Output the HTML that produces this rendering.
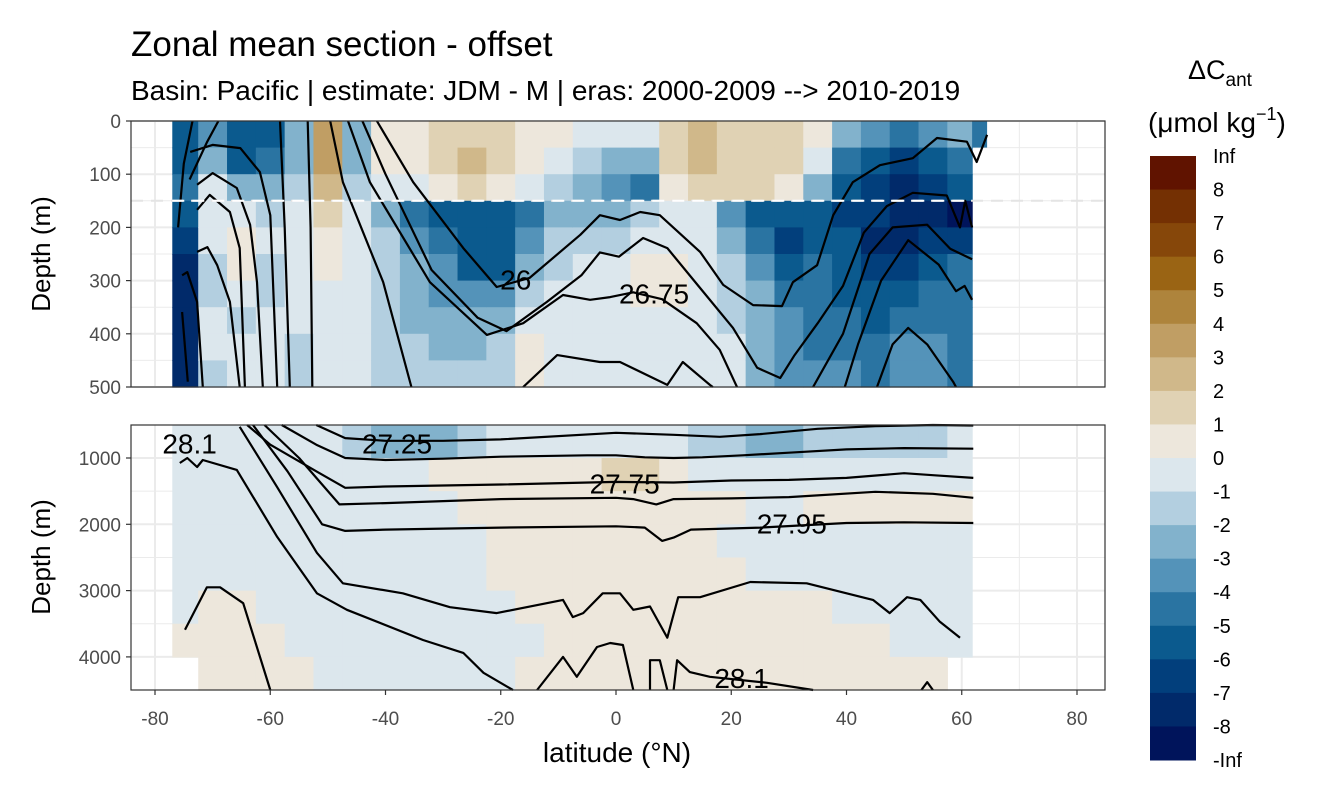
<!DOCTYPE html>
<html><head><meta charset="utf-8"><style>
body{margin:0;background:#fff;}
svg text{font-family:"Liberation Sans",sans-serif;}
</style></head><body>
<svg id="chart" width="1344" height="806" viewBox="0 0 1344 806" xmlns="http://www.w3.org/2000/svg">
<text x="131" y="56" font-size="35" fill="#000">Zonal mean section - offset</text>
<text x="131" y="100" font-size="28" fill="#000">Basin: Pacific | estimate: JDM - M | eras: 2000-2009 --&gt; 2010-2019</text>
<g id="topPanel"></g>
<g id="botPanel"></g>
<g id="axes"></g>
<g id="legend"></g>
</svg>
<script>
const latCenters=[-75,-70,-65,-60,-55,-50,-45,-40,-35,-30,-25,-20,-15,-10,-5,0,5,10,15,20,25,30,35,40,45,50,55,60];
const topDepthEdges=[0,50,100,150,200,250,300,350,400,450,500];
const botDepthEdges=[500,1000,1500,2000,2500,3000,3500,4000,4500];
const topValues=[
[-6,-6,-5,-6,-7,-8,-8,-8,-8,-8],
[-4,-3,-1,-1,-1,-2,-2,-1,-1,-2],
[-6,-6,-3,-1,0.5,0.5,-1,-2,-1,-1],
[-6,-5,-3,-2,-1,-2,-2,-1,-1,-1],
[-3,-3,-2,-1,-1,-1,-1,-1,-2,-2],
[3,3,2.5,1.5,0.5,0.5,-0.5,-0.5,-0.5,-1],
[-3,-3,-2,-1,-1,-1,-0.5,-0.5,-1,-1],
[0.5,0.5,-1,-3,-2,-2,-2,-2,-2,-2],
[0.5,0.5,-1,-5,-4,-3,-3,-3,-2,-2],
[1.5,1.5,0.5,-6,-5,-4,-4,-3,-3,-2],
[1.5,2.5,1.5,-6,-6,-6,-4,-3,-3,-2],
[1.5,1.5,0.5,-6,-6,-6,-4,-3,-2,-2],
[0.5,0.5,-0.5,-5,-4,-3,-2,-1,0.5,0.5],
[0.5,-1,-2,-3,-2,-2,-1,-1,-1,-0.5],
[-1,-2,-3,-3,-2,-1,-1,-1,-1,-1],
[-1,-3,-4,-3,-2,-1,-0.5,-1,-1,-0.5],
[-0.5,-3,-5,-2,-1,0.5,0.5,-0.5,-0.5,-0.5],
[1.5,1.5,0.5,-0.5,-0.5,0.5,0.5,-0.5,-0.5,-0.5],
[2.5,2.5,1.5,-1,-1,-1,-1,-1,-1,-1],
[1.5,1.5,1.5,-4,-3,-2,-2,-2,-1,-1],
[1.5,1.5,1.5,-6,-5,-4,-3,-3,-3,-3],
[1.5,1.5,0.5,-6,-7,-6,-5,-4,-4,-4],
[0.5,-1,-3,-6,-6,-5,-5,-5,-5,-4],
[-3,-5,-6,-7,-6,-6,-6,-5,-5,-4],
[-4,-6,-7,-7,-8,-7,-6,-6,-5,-5],
[-5,-7,-8,-8,-8,-7,-6,-5,-4,-4],
[-4,-6,-7,-8,-7,-6,-5,-5,-4,-4],
[-3,-5,-6,-9,-7,-5,-5,-5,-5,-5]];
const botValues=[
[-1,-1,-1,-1,-1,-1,0.5,null],
[-1,-1,-1,-1,-1,0.5,0.5,0.5],
[-1,-1,-1,-1,-1,0.5,0.5,0.5],
[-1,-1,-1,-1,-1,-1,0.5,0.5],
[-1,-1,-1,-1,-1,-1,-1,0.5],
[-1,-1,-1,-1,-1,-1,-1,-1],
[-2,-1,-1,-1,-1,-1,-1,-1],
[-3,-1,-1,-1,-1,-1,-1,-1],
[-3,-1,-1,-1,-1,-1,-1,-1],
[-3,0.5,-1,-1,-1,-1,-1,-1],
[-2,0.5,0.5,-1,-1,-1,-1,-1],
[-1,0.5,0.5,0.5,0.5,-1,-1,-1],
[-1,0.5,0.5,0.5,0.5,0.5,-1,0.5],
[-1,0.5,0.5,0.5,0.5,0.5,0.5,0.5],
[-1,0.5,0.5,0.5,0.5,0.5,0.5,0.5],
[-1,1.5,0.5,0.5,0.5,0.5,0.5,0.5],
[-1,1.5,0.5,0.5,0.5,0.5,0.5,0.5],
[-1,0.5,0.5,0.5,0.5,0.5,0.5,0.5],
[-2,-1,0.5,0.5,0.5,0.5,0.5,0.5],
[-2,-1,0.5,-1,0.5,0.5,0.5,0.5],
[-3,-1,-1,-1,-1,0.5,0.5,0.5],
[-3,-1,-1,-1,-1,0.5,0.5,0.5],
[-2,-1,0.5,-1,-1,0.5,0.5,0.5],
[-2,-1,0.5,-1,-1,-1,0.5,0.5],
[-2,-1,0.5,-1,-1,-1,0.5,0.5],
[-2,-1,0.5,-1,-1,-1,-1,0.5],
[-2,-1,0.5,-1,-1,-1,-1,0.5],
[-1,-1,0.5,-1,-1,-1,-1,null]];
const topContours=[
[[-41.5,0],[-35.2,115],[-26.5,239],[-20.7,312],[-15,295],[-6.2,214],[-2.8,177],[0.7,186],[4.2,171],[7.6,177],[14.6,246],[18.6,308],[23.8,346],[28.8,348],[30.7,303],[34.9,271],[37.7,177],[41.1,115],[45.8,83],[51.5,70],[55.7,32],[60.9,39],[62.6,77],[64.4,26]],
[[-44,0],[-40,100],[-32,280],[-24,370],[-19,395],[-12,340],[-6,290],[-2.8,247],[0.5,255],[4.7,220],[8.9,239],[14.6,314],[20.3,389],[24.5,464],[28.5,483],[31,440],[35,380],[39.4,310],[43,210],[47,160],[51.5,135],[57.4,140],[59.7,200],[60.6,150],[61.8,200]],
[[-46.5,0],[-42.7,115],[-32.3,303],[-22.4,402],[-16.1,380],[-9.2,327],[-4.5,336],[-1,331],[3,322],[8,335],[14,380],[18,430],[21,500]],
[[-49.6,0],[-47.4,115],[-40.4,303],[-35.5,500]],
[[-16.1,500],[-10.2,440],[-2.8,453],[0.7,453],[8.9,496],[11.6,453],[16.3,496],[16.8,500]],
[[34.2,500],[39.4,400],[44,250],[48,200],[54,195],[58,240],[61.8,260]],
[[39.7,500],[42,420],[46,300],[50.7,224],[56,270],[59,320],[60.5,310],[61.8,336]],
[[45.3,500],[48,420],[50.7,389],[54,420],[58.5,490],[59,500]],
[[-58.3,0],[-57.5,200],[-56.6,500]],
[[-53.5,0],[-53,200],[-52.7,500]],
[[-73.9,58],[-70,45],[-65.2,51],[-61.8,96],[-60,177],[-58.8,500]],
[[-72.7,120],[-70,98],[-65.8,126],[-63.5,195],[-62.3,303],[-61.3,500]],
[[-72.7,167],[-70.5,139],[-67,171],[-65.3,239],[-64.4,500]],
[[-72.7,246],[-70.9,237],[-69.2,271],[-67,340],[-65.3,500]],
[[-75.3,290],[-74.4,284],[-72.7,340],[-71.7,500]],
[[-75.3,359],[-74.3,490]],
[[-76,200],[-75,80],[-73.5,0]],
[[-74,110],[-71,40],[-69,0]]];
const botContours=[
[[-52,500],[-47,700],[-40,740],[-30,740],[-20,720],[0,620],[10,650],[18,680],[25,640],[35,560],[45,520],[55,500],[62,510]],
[[-58,500],[-52,800],[-47,1000],[-40,1030],[-30,1010],[-20,980],[-5,960],[0,960],[5,990],[10,1000],[15,990],[22,960],[30,920],[40,870],[50,850],[62,860]],
[[-64,500],[-60,800],[-52,1200],[-47,1450],[-40,1430],[-20,1400],[0,1360],[10,1370],[20,1340],[30,1330],[40,1300],[50,1230],[55,1260],[62,1300]],
[[-61,500],[-55,1000],[-48,1700],[-40,1680],[-20,1620],[0,1600],[3,1620],[7,1700],[10,1620],[20,1610],[30,1590],[45,1510],[55,1540],[62,1600]],
[[-63,500],[-57,1200],[-51,2000],[-47,2100],[-40,2080],[-20,2050],[0,2030],[5,2050],[8,2250],[10,2200],[13,2080],[25,2050],[40,1980],[50,1970],[62,1980]],
[[-65.3,530],[-58.8,1440],[-51.9,2430],[-47.4,2890],[-37,3040],[-28.8,3250],[-20.7,3340],[-9.2,3140],[-7.5,3400],[-5.7,3340],[-2.3,3040],[0.7,3040],[3,3290],[5.9,3240],[8.9,3710],[10.8,3100],[14.6,3100],[23.3,2870],[33.1,2890],[44.6,3140],[47.5,3340],[50.5,3100],[52.8,3140],[56.2,3470],[59.7,3710]],
[[-75.7,1075],[-74.4,1000],[-72.7,1135],[-71.7,1030],[-65.8,1180],[-58.8,2190],[-51.9,3040],[-46.7,3290],[-33.5,3745],[-26.5,3940],[-23,4240],[-17.9,4500]],
[[-74.8,3590],[-71,2950],[-68.7,2950],[-64.7,3190],[-60,4545]],
[[-13.7,4500],[-9.2,4000],[-6.8,4300],[-3.3,3850],[-1,3790],[1.2,3820],[3,4500]],
[[5.9,4500],[5.9,4050],[7.6,4050],[8.9,4500]],
[[10,4500],[10.6,4050],[12.8,4230],[16.3,4300],[26.2,4390],[34.2,4520]],
[[53,4500],[54,4380],[55,4500]]];
const contourLabels=[["26",-17.4,300,0],["26.75",6.6,326,0],["27.25",-38,800,1],["27.75",1.5,1400,1],["27.95",30.5,2000,1],["28.1",-74,800,1],["28.1",21.8,4330,1]];
const legendLabels=["Inf","8","7","6","5","4","3","2","1","0","-1","-2","-3","-4","-5","-6","-7","-8","-Inf"];
const binColors=["#601300","#743003","#86470a","#9a6414","#ae843c","#c09e64","#d0b88a","#e0d2b4","#ede7dc","#dce7ed","#b3cfe0","#82b2cc","#5493b9","#2a74a2","#0b5a8e","#023f7c","#012a6a","#00145b"];
const xTicks=[-80,-60,-40,-20,0,20,40,60,80];
const topYTicks=[0,100,200,300,400,500];
const botYTicks=[1000,2000,3000,4000];

const NS="http://www.w3.org/2000/svg";
const PX0=131,PX1=1105,TY0=121,TY1=387,BY0=425,BY1=690;
const xs=lat=>616+lat*5.7625;
const ysTop=d=>TY0+d*0.532;
const ysBot=d=>458+(d-1000)*0.0663;
function el(tag,attrs,parent){const e=document.createElementNS(NS,tag);for(const k in attrs)e.setAttribute(k,attrs[k]);parent.appendChild(e);return e;}
function colorFor(v){const row= v>=8?0:(v<-8?17:8-Math.floor(v));return binColors[Math.max(0,Math.min(17,row))];}

function panel(g,y0,y1,yMajor,yMinor,ys){
  el('rect',{x:PX0,y:y0,width:PX1-PX0,height:y1-y0,fill:'#fff'},g);
  for(let l=-90;l<=90;l+=10){const x=xs(l);if(x<PX0||x>PX1)continue;const ln=el('line',{x1:x,x2:x,y1:y0,y2:y1,stroke:'#ebebeb','stroke-width':(l%20===0)?2:1},g);
    
    }
  yMinor.forEach(d=>{const y=ys(d);if(y<y0||y>y1)return;const ln=el('line',{x1:PX0,x2:PX1,y1:y,y2:y,stroke:'#ebebeb','stroke-width':1},g);
    
    });
  yMajor.forEach(d=>{const y=ys(d);const ln=el('line',{x1:PX0,x2:PX1,y1:y,y2:y,stroke:'#ebebeb','stroke-width':2},g);
    
    });
}
function cells(g,values,edges,ys,rightLimit){
  values.forEach((col,i)=>{const lat=latCenters[i];let l0=Math.max(lat-2.5,-77),l1=Math.min(lat+2.5,rightLimit);
    col.forEach((v,j)=>{if(v===null)return;const y0=ys(edges[j]),y1=ys(edges[j+1]);
      const r=el('rect',{x:xs(l0),y:y0,width:xs(l1)-xs(l0)+0.6,height:y1-y0+0.6,fill:colorFor(v)},g);
      
      });});
}
function contours(g,lines,ys,y0,y1){
  lines.forEach(pts=>{const p=el('polyline',{points:pts.map(q=>xs(q[0]).toFixed(1)+','+Math.max(y0,Math.min(y1,ys(q[1]))).toFixed(1)).join(' '),fill:'none',stroke:'#000','stroke-width':2.2,'stroke-linejoin':'round'},g);
    
    });
}
const topG=document.getElementById('topPanel'),botG=document.getElementById('botPanel');
panel(topG,TY0,TY1,topYTicks,[50,150,250,350,450],ysTop);
cells(topG,topValues,topDepthEdges,ysTop,61.8);
const strip=el('rect',{x:xs(61.8),y:TY0,width:xs(64.4)-xs(61.8),height:ysTop(50)-TY0,fill:'#2a74a2'},topG);


contours(topG,topContours,ysTop,TY0,TY1);
const dg=el('line',{x1:PX0,x2:PX1,y1:ysTop(150),y2:ysTop(150),stroke:'#e4e4e4','stroke-width':2,'stroke-dasharray':'12,8'},topG);


const dw=el('line',{x1:xs(-77),x2:xs(61.8),y1:ysTop(150),y2:ysTop(150),stroke:'#fff','stroke-width':2,'stroke-dasharray':'12,8'},topG);


el('rect',{x:PX0,y:TY0,width:PX1-PX0,height:TY1-TY0,fill:'none',stroke:'#333','stroke-width':1.2},topG);

panel(botG,BY0,BY1,botYTicks,[1500,2500,3500,4500],ysBot);
cells(botG,botValues,botDepthEdges,ysBot,61.8);
contours(botG,botContours,ysBot,BY0,BY1);
el('rect',{x:PX0,y:BY0,width:PX1-PX0,height:BY1-BY0,fill:'none',stroke:'#333','stroke-width':1.2},botG);

contourLabels.forEach(c=>{const g=c[3]?botG:topG;const ys=c[3]?ysBot:ysTop;
  const t=el('text',{x:xs(c[1]),y:ys(c[2])+9,'font-size':28,'text-anchor':'middle',fill:'#000'},g);t.textContent=c[0];
  
  });

const ax=document.getElementById('axes');
xTicks.forEach(l=>{const x=xs(l);el('line',{x1:x,x2:x,y1:BY1,y2:BY1+5,stroke:'#333','stroke-width':1.2},ax);
  const t=el('text',{x:x,y:725,'font-size':19,'text-anchor':'middle',fill:'#4d4d4d'},ax);t.textContent=l;
  
  });
topYTicks.forEach(d=>{const y=ysTop(d);el('line',{x1:PX0-5,x2:PX0,y1:y,y2:y,stroke:'#333','stroke-width':1.2},ax);
  const t=el('text',{x:PX0-10,y:y+7,'font-size':19,'text-anchor':'end',fill:'#4d4d4d'},ax);t.textContent=d;
  
  });
botYTicks.forEach(d=>{const y=ysBot(d);el('line',{x1:PX0-5,x2:PX0,y1:y,y2:y,stroke:'#333','stroke-width':1.2},ax);
  const t=el('text',{x:PX0-10,y:y+7,'font-size':19,'text-anchor':'end',fill:'#4d4d4d'},ax);t.textContent=d;
  
  });
[254,557].forEach(p=>{const t=el('text',{x:0,y:0,'font-size':26,'text-anchor':'middle',fill:'#000',transform:'translate(50,'+p+') rotate(-90)'},ax);t.textContent='Depth (m)';
  
  });
const xt=el('text',{x:617,y:762,'font-size':28,'text-anchor':'middle',fill:'#000'},ax);xt.textContent='latitude (°N)';



const lg=document.getElementById('legend');
const LY0=156,LH=(760-156)/18;
binColors.forEach((c,i)=>{const r=el('rect',{x:1150,y:LY0+i*LH,width:46,height:LH+0.5,fill:c},lg);
  
  });
legendLabels.forEach((s,i)=>{const t=el('text',{x:1213,y:LY0+i*LH+7,'font-size':20,fill:'#000'},lg);t.textContent=s;
  
  });
const lt=el('text',{x:1188,y:79,'font-size':27,fill:'#000'},lg);lt.innerHTML='ΔC<tspan font-size="19" dy="7">ant</tspan>';


const lu=el('text',{x:1148,y:132,'font-size':28,fill:'#000'},lg);lu.innerHTML='(μmol kg<tspan font-size="18" dy="-12">−1</tspan><tspan dy="12">)</tspan>';


</script>
</body></html>
